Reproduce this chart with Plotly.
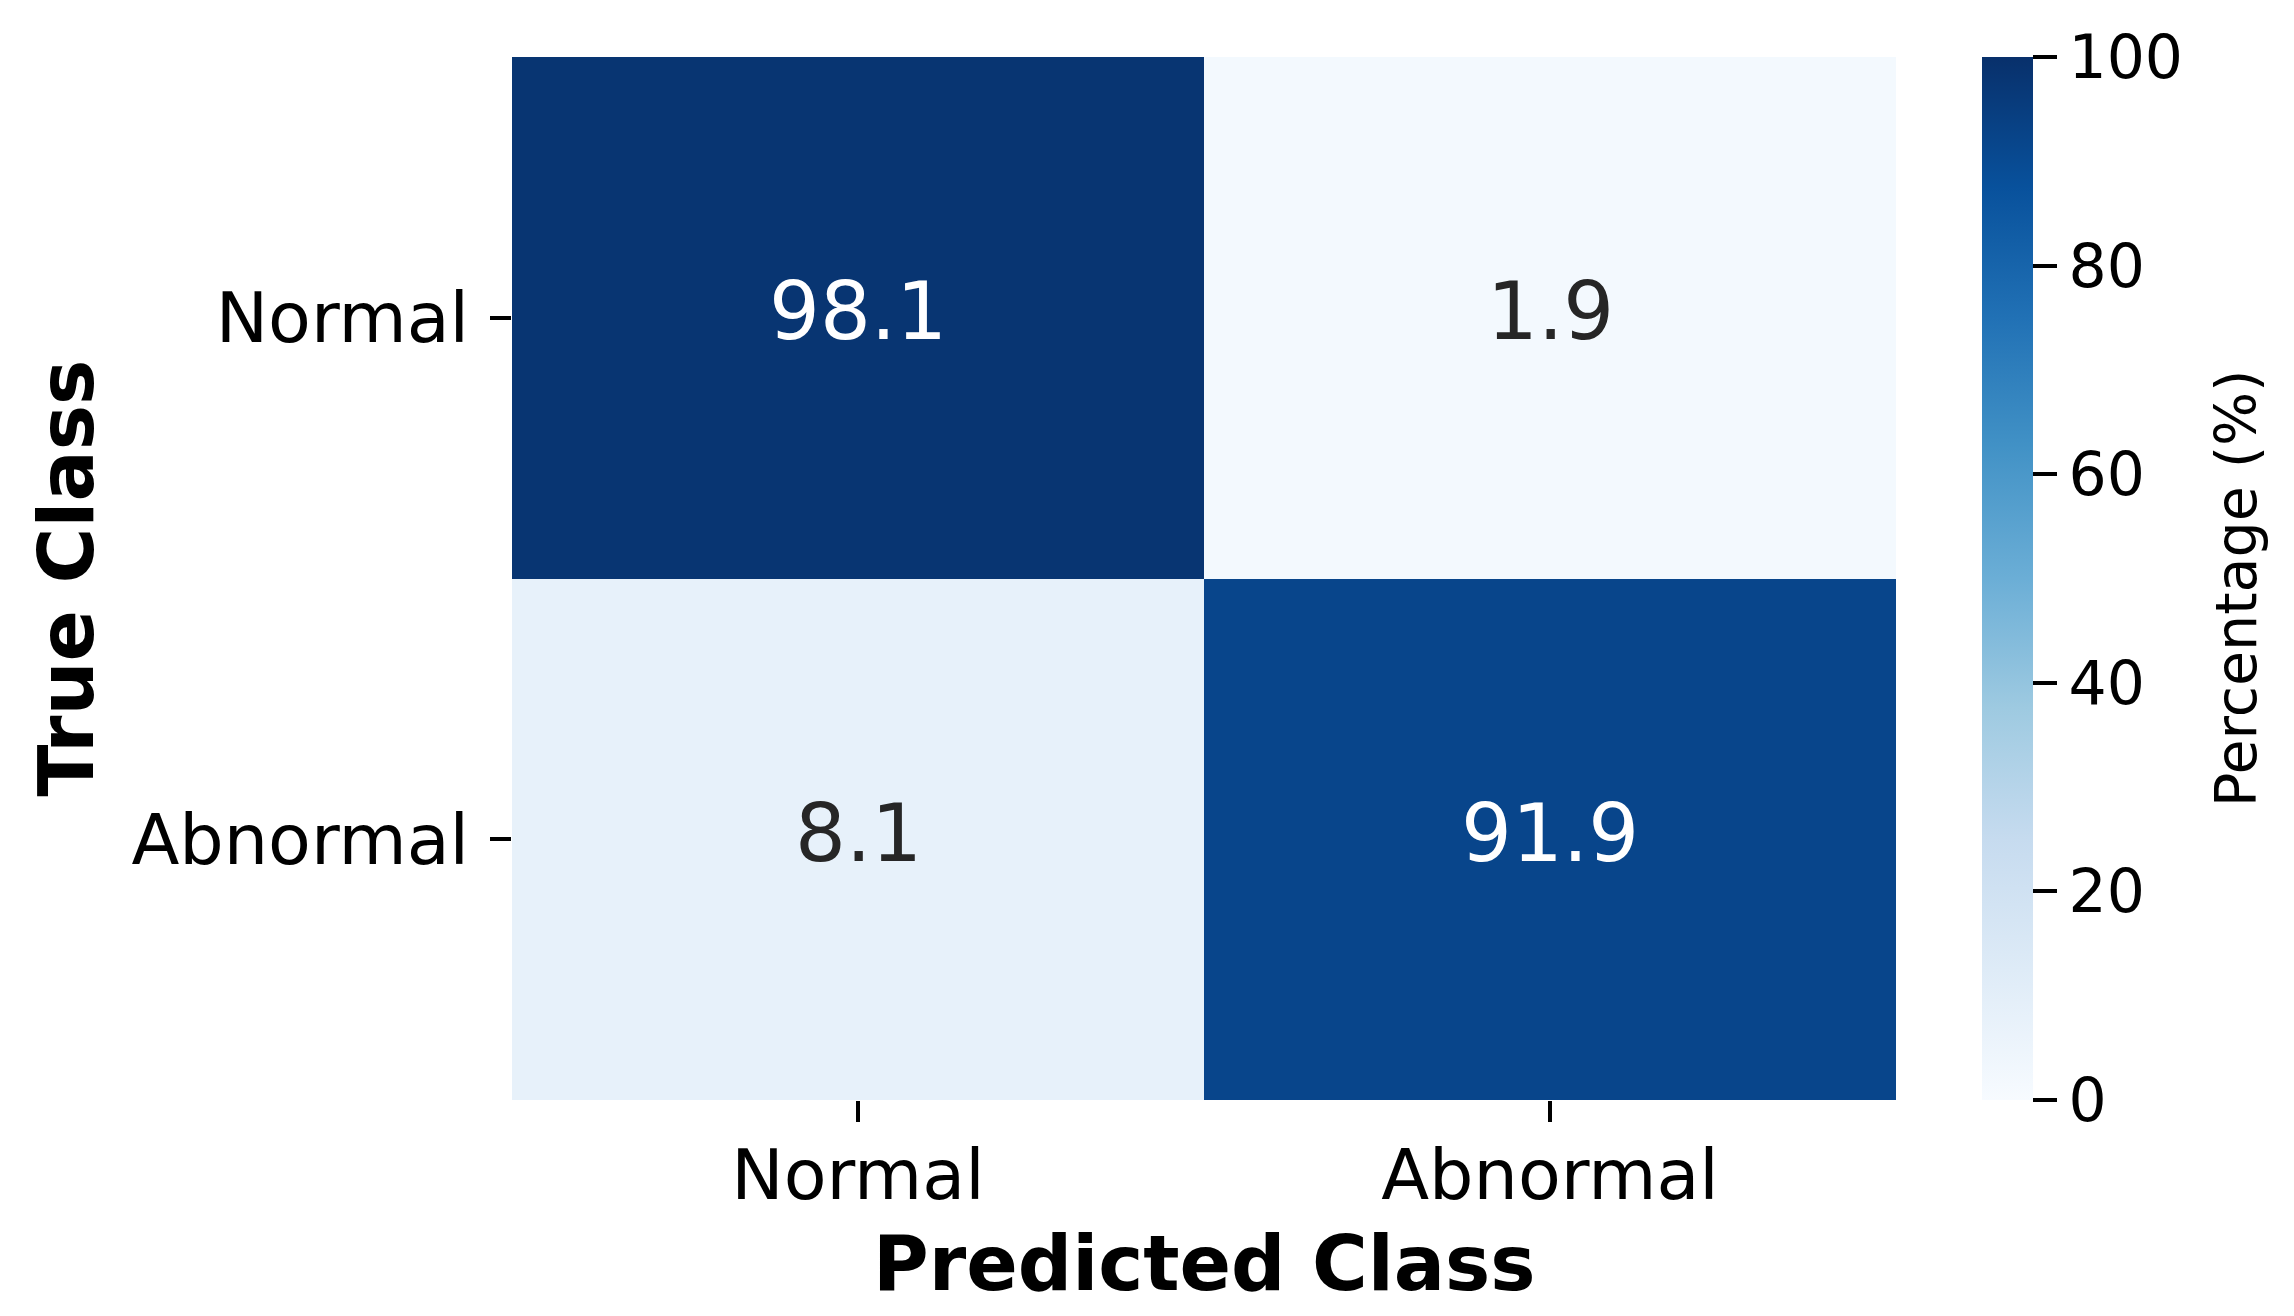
import plotly.graph_objects as go

classes = ['Normal', 'Abnormal']
# rows = true class, cols = predicted class
pct = [[98.1, 1.9],
       [8.1, 91.9]]
cbar_ticks = [0, 20, 40, 60, 80, 100]

blues = ['rgb(247,251,255)', 'rgb(222,235,247)', 'rgb(198,219,239)',
         'rgb(158,202,225)', 'rgb(107,174,214)', 'rgb(66,146,198)',
         'rgb(33,113,181)', 'rgb(8,81,156)', 'rgb(8,48,107)']

font = 'DejaVu Sans'
W, H = 2294, 1316
# page body has an 8px margin, so margins are offset by it
L, T = 504, 49
pw, ph = 1384, 1043
R, B = W - L - pw, H - T - ph

fig = go.Figure(go.Heatmap(
    z=pct, x=classes, y=classes,
    colorscale=blues, zmin=0, zmax=100, xgap=0, ygap=0,
    colorbar=dict(
        x=1 + (1982 - 1896) / pw, xanchor='left', xpad=0,
        y=0, yanchor='bottom', len=1, lenmode='fraction', ypad=0,
        thickness=51, outlinewidth=0,
        tickvals=cbar_ticks, ticks='outside', ticklen=24, tickwidth=3.5,
        tickcolor='black', tickfont=dict(family=font, size=60, color='black'),
    ),
    hoverinfo='skip',
))

for i, row in enumerate(pct):
    for j, v in enumerate(row):
        fig.add_annotation(
            x=classes[j], y=classes[i], text=f'{v:.1f}', showarrow=False, yshift=6,
            font=dict(family=font, size=80, color='white' if v > 50 else '#262626'),
        )

fig.add_annotation(xref='paper', yref='paper', x=0.5, y=-(1263 - 1100) / ph,
                   yanchor='middle', text='<b>Predicted Class</b>', showarrow=False,
                   font=dict(family=font, size=76, color='black'))
fig.add_annotation(xref='paper', yref='paper', x=-(512 - 66) / pw, xanchor='center',
                   y=0.5, text='<b>True Class</b>', textangle=-90, showarrow=False,
                   font=dict(family=font, size=76, color='black'))
fig.add_annotation(xref='paper', yref='paper', x=1 + (2236 - 1896) / pw, xanchor='center',
                   y=0.49, yanchor='middle', text='Percentage (%)',
                   textangle=-90, showarrow=False,
                   font=dict(family=font, size=57, color='black'))

fig.update_xaxes(ticks='outside', ticklen=21, tickwidth=3.5, tickcolor='black',
                 tickfont=dict(family=font, size=70, color='black'),
                 showgrid=False, zeroline=False, showline=False, ticklabelstandoff=-7)
fig.update_yaxes(autorange='reversed', ticks='outside', ticklen=21, tickwidth=3.5,
                 tickcolor='black', tickfont=dict(family=font, size=70, color='black'),
                 showgrid=False, zeroline=False, showline=False, ticklabelstandoff=7)

fig.update_layout(
    width=W, height=H, margin=dict(l=L, r=R, t=T, b=B, autoexpand=False),
    plot_bgcolor='white', paper_bgcolor='white', template=None, showlegend=False,
)

fig.write_html('out.html')
